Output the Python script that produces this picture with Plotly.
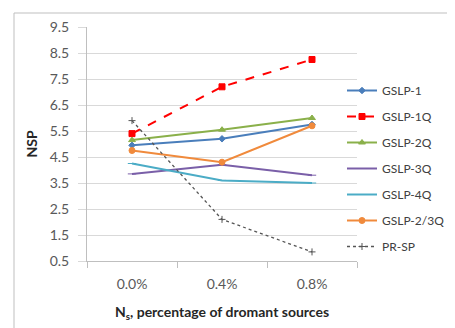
import plotly.graph_objects as go

categories = ["0.0%", "0.4%", "0.8%"]
gslp_1 = [4.95, 5.2, 5.75]
gslp_1q = [5.4, 7.2, 8.25]
gslp_2q = [5.15, 5.55, 6.0]
gslp_3q = [3.85, 4.2, 3.8]
gslp_4q = [4.25, 3.6, 3.5]
gslp_23q = [4.75, 4.3, 5.7]
pr_sp = [5.9, 2.1, 0.85]
y_ticks = [0.5, 1.5, 2.5, 3.5, 4.5, 5.5, 6.5, 7.5, 8.5, 9.5]

series = [
    ("GSLP-1", gslp_1, "#4A7EBB", "solid", "diamond", 5),
    ("GSLP-1Q", gslp_1q, "#FF0000", "dash", "square", 6),
    ("GSLP-2Q", gslp_2q, "#8AB04A", "solid", "triangle-up", 6),
    ("GSLP-3Q", gslp_3q, "#7A5FA8", "solid", "line-ew", 6),
    ("GSLP-4Q", gslp_4q, "#4BACC6", "solid", "line-ew", 6),
    ("GSLP-2/3Q", gslp_23q, "#F08A3C", "solid", "circle", 6),
    ("PR-SP", pr_sp, "#555555", "dot", "cross-thin", 5),
]

fig = go.Figure()
for i, (name, vals, color, dash, sym, size) in enumerate(series):
    fig.add_trace(go.Scatter(
        x=categories, y=vals, name=name, mode="lines+markers",
        line=dict(color=color, width=2 if dash != "dot" else 1.3, dash=dash),
        marker=dict(color=color, symbol=sym, size=size,
                    line=dict(color=color, width=1)),
        legendgroup=str(i),
    ))

fig.update_layout(
    width=455, height=328,
    margin=dict(l=79, r=106, t=19, b=75, autoexpand=False),
    paper_bgcolor="white", plot_bgcolor="white",
    font=dict(family="Lato, Open Sans, sans-serif", size=14, color="#595959"),
    showlegend=True,
    legend=dict(xref="container", yref="container", x=334 / 455, y=1 - 68 / 328,
                xanchor="left", yanchor="top", maxheight=300,
                font=dict(size=12, color="#404040"),
                tracegroupgap=7, itemwidth=30, bgcolor="rgba(0,0,0,0)"),
    xaxis=dict(type="category", range=[-0.5, 2.5], showgrid=False, automargin=False,
               showline=True, linecolor="#BFBFBF", linewidth=1,
               ticks="outside", tickson="boundaries", ticklen=6, tickcolor="#BFBFBF",
               ticklabelstandoff=10,
               tickfont=dict(size=14, color="#595959"),
               title=dict(text="<b>N<sub>s</sub>, percentage of dromant sources</b>",
                          font=dict(size=14, color="#262626"), standoff=16)),
    yaxis=dict(range=[0.5, 9.5], tickvals=y_ticks, ticktext=[f"{v:.1f}" for v in y_ticks],
               showgrid=True, gridcolor="#D9D9D9", gridwidth=1, automargin=False,
               showline=True, linecolor="#BFBFBF", linewidth=1,
               ticks="outside", ticklen=8, tickcolor="#D9D9D9",
               ticklabelstandoff=6,
               zeroline=False, tickfont=dict(size=14, color="#595959"),
               title=dict(text="<b>NSP</b>", font=dict(size=14, color="#262626"), standoff=8)),
)

fig.add_shape(type="rect", xref="paper", yref="paper",
              x0=(6 - 79) / 270, x1=(452 - 79) / 270,
              y0=(253 - 324) / 234, y1=(253 - 5) / 234,
              line=dict(color="#BFBFBF", width=1), fillcolor="rgba(0,0,0,0)", layer="below")

fig.write_html("out.html")
